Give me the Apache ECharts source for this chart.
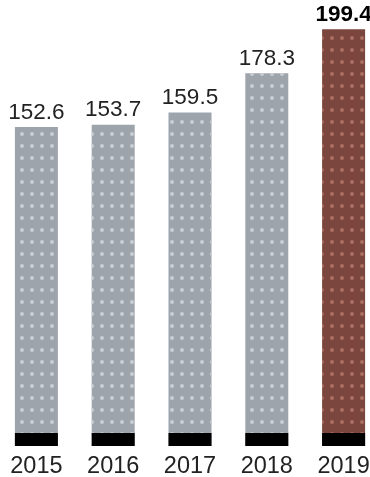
<!DOCTYPE html>
<html>
<head>
<meta charset="utf-8">
<style>
  html, body { margin: 0; padding: 0; background: #ffffff; }
  #chart { width: 370px; height: 477px; }
</style>
<script src="https://cdn.jsdelivr.net/npm/echarts@6/dist/echarts.min.js"></script>
</head>
<body>
<div id="chart"></div>
<script>
// Yearly totals
const years = ['2015', '2016', '2017', '2018', '2019'];
const totals = [152.6, 153.7, 159.5, 178.3, 199.4];
const highlightYear = '2019';

const FONT = '"Liberation Sans", Arial, Helvetica, sans-serif';
const GREY = '#9ea4ab';
const GREY_DOT = '#c9ced4';
const BROWN = '#7b463d';
const BROWN_DOT = '#aa6e62';

// Height of the black foot drawn at the bottom of every column (axis units)
const FOOT = 6.2;

function dotted(dotColor) {
  return {
    symbol: 'circle',
    symbolSize: 1,
    color: dotColor,
    dashArrayX: [4, 6],
    dashArrayY: [4, 8],
    rotation: 0
  };
}

const barData = totals.map((v, i) => {
  const hi = years[i] === highlightYear;
  return {
    value: v,
    itemStyle: { color: hi ? BROWN : GREY, decal: dotted(hi ? BROWN_DOT : GREY_DOT) },
    label: hi ? { fontWeight: 'bold', color: '#000' } : {}
  };
});

const chart = echarts.init(document.getElementById('chart'), null, { renderer: 'canvas' });
chart.setOption({
  animation: false,
  backgroundColor: '#ffffff',
  grid: {
    left: -2, width: 384, top: 7, height: 439,
    containLabel: false,
    outerBoundsMode: 'none'
  },
  xAxis: {
    type: 'category',
    data: years,
    axisLine: { show: false },
    axisTick: { show: false },
    axisLabel: { fontFamily: FONT, fontSize: 23.5, color: '#222', margin: 9 }
  },
  yAxis: {
    type: 'value',
    min: 0,
    max: 210,
    show: false,
    splitLine: { show: false }
  },
  series: [
    {
      type: 'bar',
      data: barData,
      barWidth: 43,
      label: {
        show: true,
        position: 'top',
        distance: 3,
        fontFamily: FONT,
        fontSize: 22.5,
        color: '#222',
        formatter: p => p.value.toFixed(1)
      },
      z: 2
    },
    {
      type: 'bar',
      data: years.map(() => FOOT),
      barWidth: 43,
      barGap: '-100%',
      itemStyle: { color: '#000' },
      silent: true,
      z: 3
    }
  ]
});
</script>
</body>
</html>
